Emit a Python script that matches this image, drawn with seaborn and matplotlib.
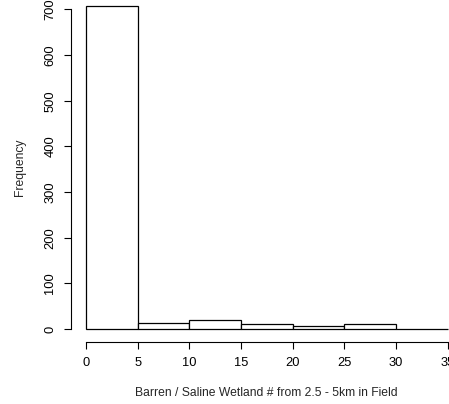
import numpy as np
import matplotlib
matplotlib.use("Agg")
import matplotlib.pyplot as plt
import seaborn as sns

# histogram counts
bin_edges = [0, 5, 10, 15, 20, 25, 30, 35]
counts = [708, 13, 19, 11, 6, 11, 1]
x_ticks = [0, 5, 10, 15, 20, 25, 30, 35]
y_ticks = [0, 100, 200, 300, 400, 500, 600, 700]

mids = [(bin_edges[i] + bin_edges[i + 1]) / 2 for i in range(len(counts))]

sns.set_style("white")
plt.rcParams['font.family'] = ['Liberation Sans', 'DejaVu Sans']

fig = plt.figure(figsize=(4.49, 4.04), dpi=100)
ax = fig.add_axes([0.1592, 0.1537, 0.8697, 0.864])

sns.histplot(x=mids, weights=counts, bins=bin_edges, ax=ax,
             color='white', edgecolor='black', linewidth=0.9, alpha=1)

# R style: 4% padding, open axes
ax.set_xlim(-1.4, 36.4)
ax.set_ylim(-28.3, 736.3)
ax.set_xticks(x_ticks)
ax.set_yticks(y_ticks)
ax.set_yticklabels([str(v) for v in y_ticks], rotation=90, va='center')
ax.spines['top'].set_visible(False)
ax.spines['right'].set_visible(False)
ax.spines['left'].set_bounds(0, 700)
ax.spines['bottom'].set_bounds(0, 35)
for s in ['left', 'bottom']:
    ax.spines[s].set_color('black')
    ax.spines[s].set_linewidth(0.8)
ax.tick_params(direction='out', length=5, width=0.8, colors='black',
               labelsize=9.3, pad=6, left=True, bottom=True)

ax.set_xlabel('Barren / Saline Wetland # from 2.5 - 5km in Field', fontsize=8.7, labelpad=13)
ax.set_ylabel('Frequency', fontsize=8.7, labelpad=13)

fig.savefig('out.png', dpi=100)
